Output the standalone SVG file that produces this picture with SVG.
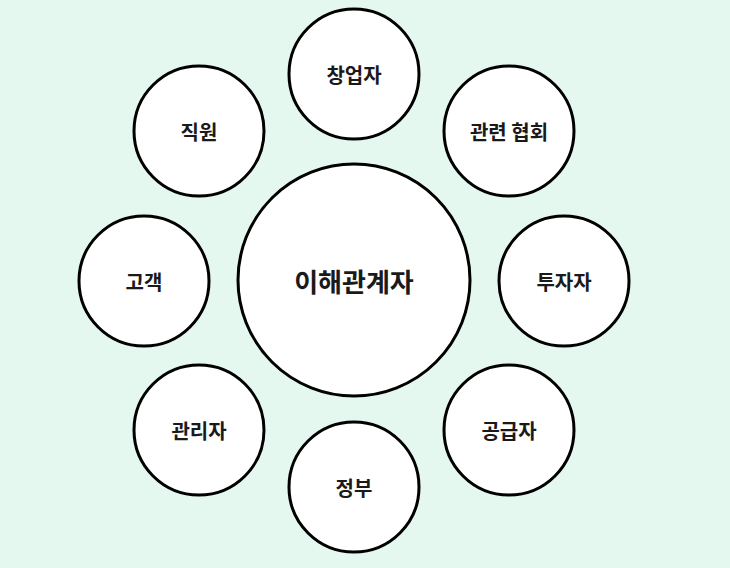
<svg xmlns="http://www.w3.org/2000/svg" width="730" height="568" viewBox="0 0 730 568">
<style>
.n{fill:#ffffff;stroke:#000000;stroke-width:3}
.t{font-family:"Noto Sans CJK KR","Noto Sans",sans-serif;font-weight:700;fill:#1a1a1a;text-anchor:middle;dominant-baseline:central;font-size:20px}
.c{font-size:26px}
</style>
<rect width="730" height="568" fill="#e5f8f0"/>
<g id="connectors"></g>
<g id="center"><circle class="n" cx="354" cy="280" r="116"/><text class="t c" x="354" y="280">이해관계자</text></g>
<g id="founder"><circle class="n" cx="354" cy="74" r="65"/><text class="t" x="354" y="74">창업자</text></g>
<g id="association"><circle class="n" cx="509" cy="131" r="65"/><text class="t" x="509" y="131">관련 협회</text></g>
<g id="investor"><circle class="n" cx="564" cy="281" r="65"/><text class="t" x="564" y="281">투자자</text></g>
<g id="supplier"><circle class="n" cx="509" cy="430" r="65"/><text class="t" x="509" y="430">공급자</text></g>
<g id="government"><circle class="n" cx="354" cy="487" r="65"/><text class="t" x="354" y="487">정부</text></g>
<g id="manager"><circle class="n" cx="199" cy="430" r="65"/><text class="t" x="199" y="430">관리자</text></g>
<g id="customer"><circle class="n" cx="144" cy="281" r="65"/><text class="t" x="144" y="281">고객</text></g>
<g id="employee"><circle class="n" cx="199" cy="131" r="65"/><text class="t" x="199" y="131">직원</text></g>
</svg>
